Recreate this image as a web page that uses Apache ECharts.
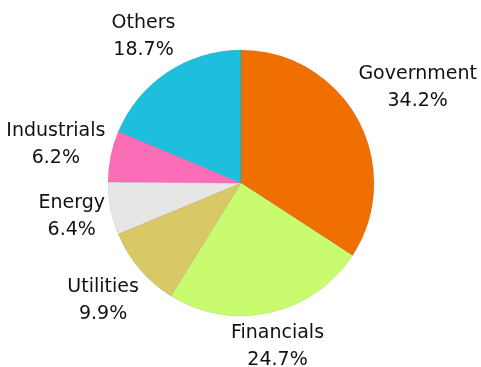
<!DOCTYPE html>
<html><head><meta charset="utf-8">
<script src="https://cdn.jsdelivr.net/npm/echarts@6/dist/echarts.min.js"></script>
<style>html,body{margin:0;padding:0;background:#fff}#c{width:481px;height:367px}</style>
</head><body><div id="c"></div>
<script>
const categories = ["Government","Financials","Utilities","Energy","Industrials","Others"];
const values = [34.2, 24.7, 9.9, 6.4, 6.2, 18.7];
const colors = ["#EF6F00","#C8FB70","#D9C866","#E6E6E6","#FB6DB6","#1EBEDD"];

const CX = 241, CY = 183, R = 133, GAP = 3;
const total = values.reduce((a,b)=>a+b,0);
const mids = [];
{ let acc = 0; values.forEach(v => { mids.push((acc + v/2) / total * 2 * Math.PI); acc += v; }); }

const chart = echarts.init(document.getElementById('c'));
chart.setOption({
  animation:false,
  series:[{
    type:'pie',
    center:[CX,CY],
    radius:[0,R],
    startAngle:90,
    clockwise:true,
    data: categories.map((n,i)=>({name:n,value:values[i],itemStyle:{color:colors[i]}})),
    itemStyle:{borderColor:'rgba(0,0,0,0.15)',borderWidth:0.5},
    label:{show:true,position:'outside',formatter:p=>p.name+'\n'+p.value.toFixed(1)+'%',
      fontFamily:'DejaVu Sans',fontSize:19,color:'#111',lineHeight:27,align:'center',overflow:'none'},
    labelLine:{show:false},
    labelLayout: function(p){
      const a = mids[p.dataIndex];
      const dx = Math.sin(a), dy = -Math.cos(a);
      const hw = p.labelRect.width/2, hh = p.labelRect.height/2;
      let t = R;
      for (; t < 400; t += 0.5) {
        const bx = dx*t, by = dy*t;
        const nx = Math.max(bx-hw, Math.min(0, bx+hw));
        const ny = Math.max(by-hh, Math.min(0, by+hh));
        if (Math.hypot(nx, ny) >= R + GAP) break;
      }
      return {x: CX + dx*t, y: CY + dy*t, align:'center', verticalAlign:'middle'};
    },
    emphasis:{disabled:true}
  }]
});
</script></body></html>
